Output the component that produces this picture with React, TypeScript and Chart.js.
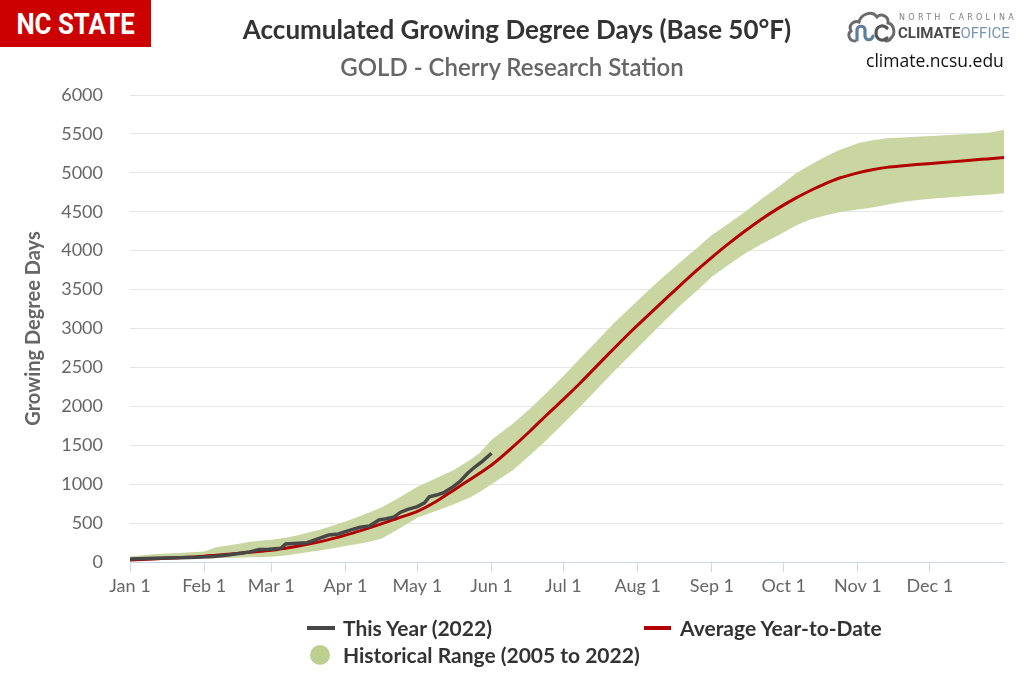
import React, { useEffect, useRef } from "react";
import { Chart, registerables } from "chart.js";

Chart.register(...registerables);

// ---- data ----
const monthDays = [0, 31, 59, 90, 120, 151, 181, 212, 243, 273, 304, 334];
const monthLabels = ["Jan 1", "Feb 1", "Mar 1", "Apr 1", "May 1", "Jun 1", "Jul 1", "Aug 1", "Sep 1", "Oct 1", "Nov 1", "Dec 1"];

const rangeDays = [0, 10, 20, 31, 36, 45, 50, 59, 65, 71, 80, 90, 97, 105, 112, 120, 128, 135, 142, 146, 151, 160, 167, 174, 181, 188, 195, 202, 209, 216, 223, 230, 237, 243, 250, 257, 264, 271, 278, 284, 290, 296, 304, 310, 316, 323, 330, 337, 344, 351, 358, 365];

const avgValues = [25, 40, 55, 75, 88, 110, 125, 150, 178, 210, 265, 345, 410, 490, 565, 650, 780, 920, 1060, 1140, 1246, 1482, 1680, 1889, 2090, 2300, 2520, 2740, 2955, 3160, 3362, 3560, 3755, 3915, 4090, 4255, 4410, 4550, 4675, 4770, 4855, 4930, 5000, 5040, 5070, 5092, 5110, 5127, 5144, 5162, 5179, 5196];

const upperValues = [70, 100, 115, 135, 190, 230, 260, 285, 310, 350, 420, 520, 600, 700, 820, 968, 1080, 1180, 1310, 1400, 1570, 1780, 1970, 2175, 2390, 2617, 2840, 3067, 3270, 3474, 3670, 3859, 4040, 4202, 4350, 4502, 4670, 4823, 4990, 5100, 5200, 5290, 5380, 5420, 5444, 5455, 5468, 5478, 5490, 5500, 5512, 5551];

const lowerValues = [20, 25, 35, 47, 50, 55, 60, 68, 85, 111, 150, 205, 240, 300, 420, 570, 660, 740, 830, 900, 1000, 1182, 1370, 1568, 1780, 1996, 2220, 2445, 2660, 2874, 3090, 3302, 3490, 3666, 3820, 3967, 4090, 4202, 4320, 4400, 4450, 4495, 4530, 4555, 4590, 4630, 4655, 4675, 4690, 4705, 4720, 4738];

const thisYearDays = [0, 7, 14, 21, 28, 35, 41, 46, 50, 54, 58, 63, 65, 70, 74, 79, 83, 87, 90, 93, 96, 100, 104, 107, 110, 113, 116, 120, 123, 125, 128, 131, 135, 138, 141, 144, 147, 151];
const thisYearValues = [40, 45, 50, 55, 60, 70, 90, 112, 130, 160, 165, 176, 231, 240, 248, 304, 347, 360, 390, 420, 446, 463, 540, 555, 574, 640, 677, 711, 760, 839, 860, 890, 968, 1040, 1140, 1220, 1290, 1397];

const yMax = 6000;
const yStep = 500;

const FONT = "Lato, 'Open Sans', 'DejaVu Sans', sans-serif";

function pts(xs: number[], ys: number[]) {
  return xs.map((x, i) => ({ x, y: ys[i] }));
}

export default function App() {
  const ref = useRef<HTMLCanvasElement>(null);

  useEffect(() => {
    document.body.style.margin = "0";
    const canvas = ref.current;
    if (!canvas) return;
    const chart = new Chart(canvas, {
      type: "line",
      data: {
        datasets: [
          {
            label: "This Year (2022)",
            data: pts(thisYearDays, thisYearValues),
            borderColor: "#474747",
            borderWidth: 3.5,
            pointRadius: 0,
            fill: false,
            tension: 0,
            order: 0,
          },
          {
            label: "Average Year-to-Date",
            data: pts(rangeDays, avgValues),
            borderColor: "#b30000",
            borderWidth: 3,
            pointRadius: 0,
            fill: false,
            cubicInterpolationMode: "monotone",
            order: 1,
          },
          {
            label: "Historical Range (2005 to 2022)",
            data: pts(rangeDays, upperValues),
            borderColor: "rgba(0,0,0,0)",
            borderWidth: 0,
            backgroundColor: "#c9d6a1",
            pointRadius: 0,
            fill: "+1",
            order: 2,
          },
          {
            label: "lower",
            data: pts(rangeDays, lowerValues),
            borderColor: "rgba(0,0,0,0)",
            borderWidth: 0,
            pointRadius: 0,
            fill: false,
            order: 3,
          },
        ],
      },
      options: {
        animation: false,
        responsive: false,
        maintainAspectRatio: false,
        layout: { padding: { left: 18, right: 20, top: 95, bottom: 81 } },
        plugins: {
          legend: { display: false },
          tooltip: { enabled: false },
          title: { display: false },
        },
        scales: {
          x: {
            type: "linear",
            min: 0,
            max: 365,
            afterBuildTicks: (scale: any) => {
              scale.ticks = monthDays.map((v) => ({ value: v }));
            },
            afterFit: (scale: any) => {
              scale.height = 40;
            },
            ticks: {
              autoSkip: false,
              maxRotation: 0,
              color: "#666666",
              font: { family: FONT, size: 18 },
              padding: 3,
              callback: (v: any) => {
                const i = monthDays.indexOf(Number(v));
                return i >= 0 ? monthLabels[i] : "";
              },
            },
            grid: {
              drawOnChartArea: false,
              drawTicks: true,
              tickLength: 10,
              color: "#ccd6eb",
              lineWidth: 1,
            },
            border: { color: "#ccd6eb", width: 1 },
          },
          y: {
            min: 0,
            max: yMax,
            afterFit: (scale: any) => {
              scale.width = 112;
            },
            ticks: {
              stepSize: yStep,
              color: "#666666",
              font: { family: FONT, size: 18 },
              padding: 27,
              callback: (v: any) => String(v),
            },
            grid: { color: "#e6e6e6", lineWidth: 1, drawTicks: false },
            border: { display: false },
            title: {
              display: true,
              text: "Growing Degree Days",
              color: "#666666",
              font: { family: FONT, size: 20, weight: "bold" },
              padding: { top: 4, bottom: 4 },
            },
          },
        },
      },
    } as any);
    return () => chart.destroy();
  }, []);

  const abs = (s: React.CSSProperties): React.CSSProperties => ({ position: "absolute", ...s });

  return (
    <div style={{ position: "relative", width: 1024, height: 683, background: "#ffffff", overflow: "hidden", fontFamily: FONT }}>
      <canvas ref={ref} width={1024} height={683} style={{ position: "absolute", left: 0, top: 0, width: 1024, height: 683 }} />

      {/* NC STATE badge */}
      <div style={abs({ left: 0, top: 0, width: 151, height: 47, background: "#cc0000" })} />
      <div
        style={abs({
          left: 0,
          top: 0,
          width: 151,
          height: 47,
          lineHeight: "47px",
          textAlign: "center",
          color: "#ffffff",
          fontFamily: "'Roboto', sans-serif",
          fontWeight: "bold",
          fontSize: 30,
          transform: "scaleX(0.86)",
          transformOrigin: "76px 0",
          whiteSpace: "nowrap",
        })}
      >
        NC STATE
      </div>

      {/* Title */}
      <div style={abs({ left: 0, top: 14, width: 1034, textAlign: "center", fontSize: 26, lineHeight: "30px", fontWeight: "bold", color: "#333333", whiteSpace: "nowrap" })}>
        Accumulated Growing Degree Days (Base 50°F)
      </div>
      <div style={abs({ left: 0, top: 53, width: 1024, textAlign: "center", fontSize: 24, lineHeight: "28px", fontWeight: 600, color: "#666666", whiteSpace: "nowrap" })}>
        GOLD - Cherry Research Station
      </div>

      {/* Climate office logo */}
      <svg width={52} height={40} style={abs({ left: 846, top: 6 })} viewBox="0 0 52 40">
        <path
          d="M9 35 C3 35 1 28 5 25 C2 19 8 14 13 16 C15 8 26 4 31 11 C35 7 43 10 42 17 C48 18 50 28 45 32 C44 34 42 35 40 35"
          fill="none"
          stroke="#6b6b6b"
          strokeWidth={3}
          strokeLinecap="round"
        />
        <path d="M11 34 L11 24 C11 19 19 19 19 24 L19 30 C19 35 26 35 27 30" fill="none" stroke="#5d7f9c" strokeWidth={3.2} strokeLinecap="round" />
        <path d="M41 22 C37 18 30 20 30 27 C30 34 37 36 41 32" fill="none" stroke="#555555" strokeWidth={3.2} strokeLinecap="round" />
      </svg>
      <div style={abs({ left: 899, top: 13, fontSize: 8, letterSpacing: "3.3px", color: "#7d7d7d", fontFamily: "'DejaVu Sans', sans-serif", whiteSpace: "nowrap" })}>
        NORTH CAROLINA
      </div>
      <div style={abs({ left: 898, top: 24, fontSize: 15, lineHeight: "18px", whiteSpace: "nowrap", fontFamily: "'Roboto', sans-serif" })}>
        <span style={{ fontWeight: "bold", color: "#4a4a4a" }}>CLIMATE</span>
        <span style={{ color: "#7896b3" }}>OFFICE</span>
      </div>
      <div style={abs({ left: 866, top: 48, fontSize: 17.5, lineHeight: "24px", color: "#111111", whiteSpace: "nowrap", fontFamily: "'Open Sans', sans-serif" })}>
        climate.ncsu.edu
      </div>

      {/* Legend */}
      <div style={abs({ left: 307, top: 626, width: 28, height: 4, background: "#474747" })} />
      <div style={abs({ left: 343, top: 614, fontSize: 21, lineHeight: "27px", fontWeight: "bold", color: "#333333", whiteSpace: "nowrap" })}>
        This Year (2022)
      </div>
      <div style={abs({ left: 644, top: 626, width: 27, height: 4, background: "#b30000" })} />
      <div style={abs({ left: 680, top: 614, fontSize: 21, lineHeight: "27px", fontWeight: "bold", color: "#333333", whiteSpace: "nowrap" })}>
        Average Year-to-Date
      </div>
      <div style={abs({ left: 310, top: 645, width: 20, height: 20, borderRadius: 10, background: "#bccf8f" })} />
      <div style={abs({ left: 343, top: 641, fontSize: 21, lineHeight: "27px", fontWeight: "bold", color: "#333333", whiteSpace: "nowrap" })}>
        Historical Range (2005 to 2022)
      </div>
    </div>
  );
}
